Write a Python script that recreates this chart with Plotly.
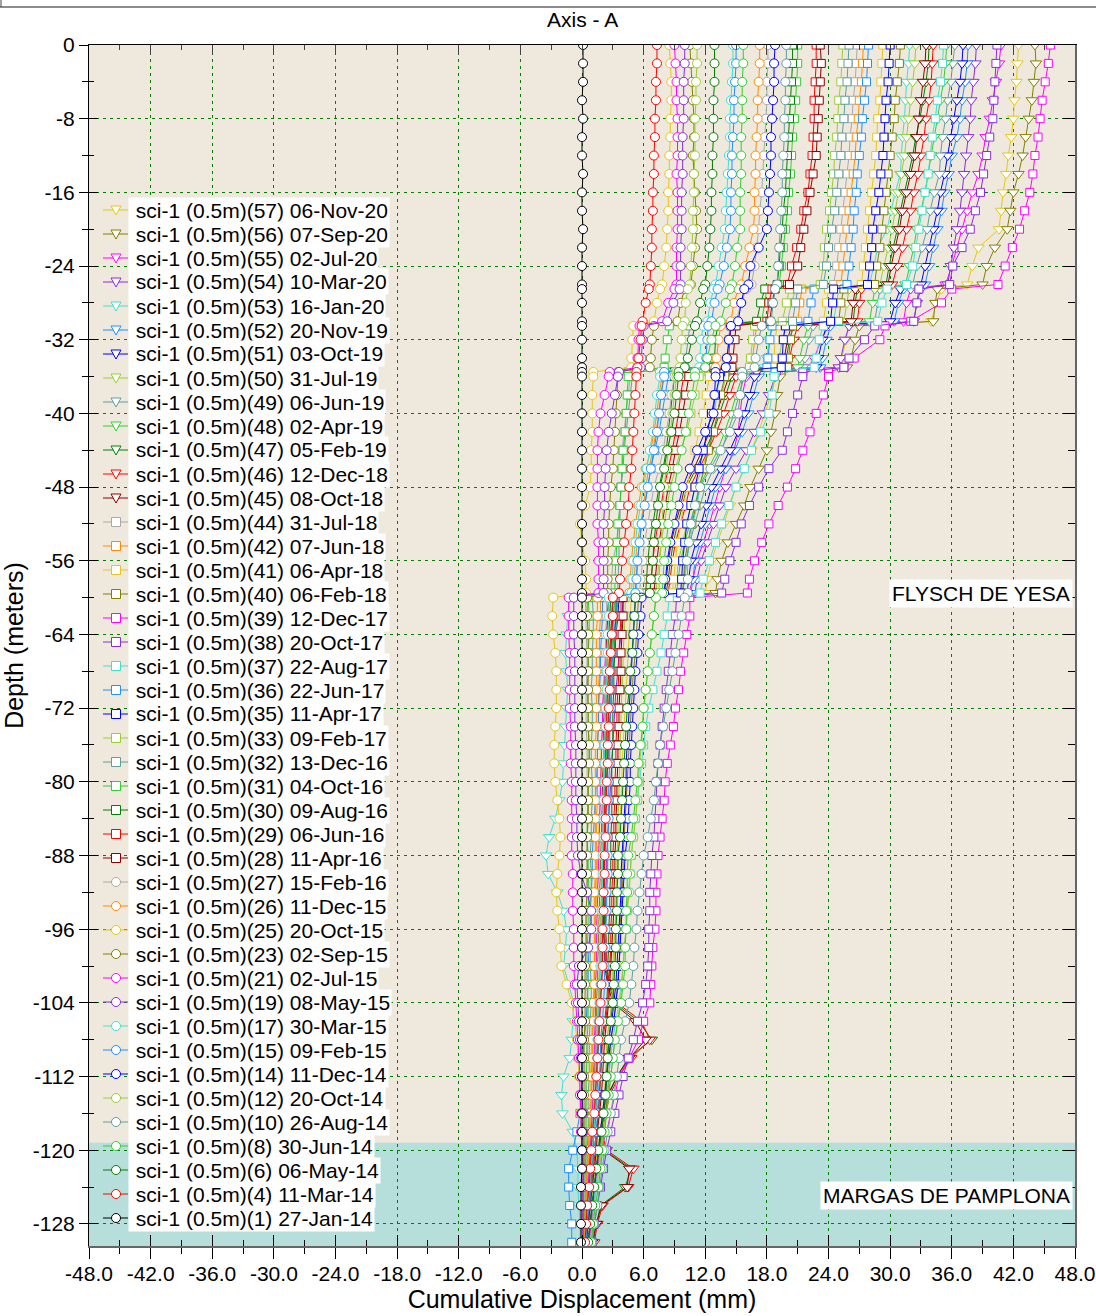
import plotly.graph_objects as go

# depth of each reading (m), shared by all surveys
depth = [0, -2, -4, -6, -8, -10, -12, -14, -16, -18, -20, -22, -24, -26,
         -26.5, -28, -30,
         -30.5, -32, -34, -35,
         -35.5, -36, -38, -40, -42, -44, -46, -48, -50, -52, -54, -56, -58,
         -59.5,
         -60, -62, -64, -66, -68, -70, -72, -74, -76, -78,
         -80, -82, -84, -86, -88, -90, -92, -94, -96, -98,
         -100, -102, -104, -106, -108, -110, -112, -114, -116, -118,
         -120, -122, -124, -126, -128, -130]

# cumulative displacement (mm) per survey
d57 = [42.5, 42.4, 42.3, 42.1, 42.0, 41.8, 41.5, 41.3, 41.0, 40.8, 40.6, 38.6, 38.0, 37.5,
       35.0, 34.5, 34.0,
       26.0, 25.7, 25.3, 25.0,
       19.0, 18.9, 18.4, 17.8, 17.2, 16.5, 15.8, 15.0, 14.4, 13.8, 13.2, 12.6, 12.2,
       12.0,
       2.8, 2.7, 2.6, 2.5, 2.3, 2.2, 2.0, 2.0, 1.9, 1.8,
       1.8, 1.7, 1.7, 1.6, 1.5, 1.5, 1.4, 1.4, 1.3, 1.3,
       1.2, 1.2, 1.1, 1.0, 0.9, 0.9, 0.8, 0.8, 0.7, 0.6,
       0.5, 0.5, 0.4, 0.3, 0.3, 0.2]
d56 = [44.1, 44.2, 44.0, 43.8, 43.5, 43.2, 42.9, 42.5, 42.0, 41.7, 41.4, 40.2, 39.4, 39.0,
       34.6, 34.4, 34.2,
       27.0, 26.6, 26.2, 25.8,
       19.5, 19.3, 19.0, 18.8, 18.4, 18.0, 17.2, 16.4, 15.8, 15.0, 14.2, 13.6, 13.2,
       13.0,
       3.0, 2.9, 2.8, 2.7, 2.6, 2.5, 2.4, 2.3, 2.2, 2.1,
       2.0, 2.0, 1.9, 1.9, 1.8, 1.8, 1.7, 1.7, 1.6, 1.6,
       1.5, 1.5, 1.4, 1.4, 1.3, 1.3, 1.2, 1.1, 1.0, 0.9,
       0.8, 0.7, 0.6, 0.5, 0.4, 0.3]
d55 = [40.8, 40.6, 40.3, 40.0, 39.7, 39.3, 39.0, 38.6, 38.0, 37.5, 37.0, 36.5, 36.0, 35.4,
       32.0, 31.6, 31.3,
       24.0, 23.3, 22.6, 22.0,
       16.2, 16.0, 15.6, 15.4, 15.2, 14.8, 14.0, 13.4, 12.9, 12.4, 11.8, 11.2, 10.8,
       10.4,
       2.6, 2.5, 2.4, 2.3, 2.2, 2.1, 2.0, 2.0, 1.9, 1.9,
       1.8, 1.8, 1.7, 1.7, 1.6, 1.6, 1.5, 1.5, 1.4, 1.4,
       1.4, 1.3, 1.3, 1.3, 1.2, 1.2, 1.1, 1.1, 1.0, 0.9,
       0.8, 0.7, 0.6, 0.5, 0.4, 0.3]
d54 = [38.4, 38.3, 38.1, 37.9, 37.8, 37.6, 37.4, 37.2, 37.0, 36.8, 36.5, 36.2, 35.9, 35.6,
       33.0, 32.6, 32.3,
       26.0, 25.6, 25.2, 25.0,
       19.0, 18.8, 18.2, 17.6, 16.8, 16.0, 15.0, 14.0, 13.4, 12.8, 12.2, 11.6, 11.2,
       11.0,
       4.0, 3.9, 3.8, 3.6, 3.5, 3.3, 3.2, 3.1, 3.0, 2.9,
       2.8, 2.7, 2.6, 2.5, 2.4, 2.4, 2.3, 2.2, 2.1, 2.0,
       2.0, 1.9, 1.8, 1.7, 1.6, 1.5, 1.5, 1.4, 1.3, 1.2,
       1.0, 0.9, 0.8, 0.6, 0.5, 0.4]
d53 = [31.9, 31.8, 31.6, 31.5, 31.4, 31.2, 31.1, 31.0, 30.5, 30.1, 29.7, 28.8, 28.4, 28.0,
       25.0, 24.8, 24.5,
       18.5, 18.2, 18.0, 17.8,
       13.5, 13.4, 13.1, 12.9, 12.6, 12.3, 11.9, 11.5, 11.2, 10.8, 10.5, 10.2, 10.0,
       9.8,
       -1.2, -1.4, -1.5, -1.6, -1.5, -1.4, -1.5, -1.6, -1.7, -1.8,
       -1.9, -2.2, -2.6, -3.2, -3.5, -3.3, -2.4, -1.8, -1.5, -1.6,
       -1.8, -1.3, -0.8, -0.9, -1.0, -1.2, -1.8, -2.0, -1.9, -0.9,
       -0.5, -0.4, -0.4, -0.3, -0.2, -0.2]
d52 = [37.6, 37.5, 37.3, 37.0, 36.8, 36.5, 36.0, 35.7, 35.3, 35.0, 34.6, 34.2, 33.8, 33.4,
       31.3, 30.8, 30.4,
       24.2, 23.8, 23.4, 23.2,
       17.4, 17.2, 16.7, 16.2, 15.6, 14.9, 14.0, 13.0, 12.5, 12.0, 11.5, 11.0, 10.8,
       10.6,
       3.4, 3.3, 3.1, 3.0, 2.9, 2.7, 2.6, 2.5, 2.4, 2.3,
       2.3, 2.2, 2.1, 2.1, 2.0, 2.0, 1.9, 1.9, 1.8, 1.8,
       1.7, 1.7, 1.6, 1.6, 1.5, 1.4, 1.4, 1.3, 1.2, 1.1,
       0.9, 0.8, 0.7, 0.6, 0.5, 0.4]
d51 = [37.1, 37.0, 36.8, 36.5, 36.2, 35.9, 35.6, 35.3, 34.9, 34.6, 34.2, 33.8, 33.4, 33.0,
       31.0, 30.5, 30.0,
       23.8, 23.4, 23.0, 22.8,
       17.0, 16.8, 16.3, 15.8, 15.2, 14.4, 13.5, 12.6, 12.1, 11.6, 11.1, 10.6, 10.4,
       10.2,
       3.6, 3.5, 3.3, 3.2, 3.0, 2.9, 2.8, 2.7, 2.6, 2.5,
       2.4, 2.3, 2.3, 2.2, 2.2, 2.1, 2.0, 2.0, 1.9, 1.9,
       1.8, 1.8, 1.7, 1.7, 1.6, 1.5, 1.5, 1.4, 1.3, 1.2,
       1.0, 0.9, 0.8, 0.6, 0.5, 0.4]
d50 = [32.5, 32.4, 32.2, 32.0, 31.8, 31.6, 31.4, 31.1, 30.8, 30.5, 30.2, 29.8, 29.4, 29.0,
       26.0, 25.8, 25.5,
       19.8, 19.5, 19.2, 19.0,
       14.2, 14.0, 13.6, 13.2, 12.8, 12.3, 11.7, 11.0, 10.6, 10.2, 9.8, 9.4, 9.2,
       9.0,
       3.0, 2.9, 2.8, 2.7, 2.6, 2.6, 2.5, 2.4, 2.3, 2.2,
       2.2, 2.1, 2.1, 2.0, 2.0, 1.9, 1.9, 1.8, 1.8, 1.7,
       1.7, 1.6, 1.6, 1.5, 1.5, 1.4, 1.4, 1.3, 1.2, 1.1,
       0.9, 0.8, 0.7, 0.6, 0.5, 0.4]
d49 = [36.3, 36.1, 35.9, 35.6, 35.4, 35.1, 34.9, 34.8, 34.3, 33.9, 33.6, 33.1, 32.6, 32.2,
       29.0, 28.8, 28.5,
       22.5, 22.1, 21.7, 21.5,
       16.0, 15.8, 15.3, 14.8, 14.2, 13.6, 12.8, 12.0, 11.5, 11.0, 10.5, 10.1, 9.9,
       9.8,
       3.5, 3.4, 3.3, 3.1, 3.0, 2.9, 2.8, 2.7, 2.6, 2.5,
       2.4, 2.4, 2.3, 2.3, 2.2, 2.1, 2.0, 2.0, 1.9, 1.9,
       1.8, 1.8, 1.7, 1.6, 1.5, 1.4, 1.4, 1.3, 1.2, 1.0,
       0.9, 0.8, 0.7, 0.6, 0.5, 0.4]
d48 = [35.5, 35.4, 35.2, 34.9, 34.6, 34.3, 34.0, 33.7, 33.4, 33.0, 32.6, 32.3, 31.9, 31.5,
       28.5, 28.3, 28.0,
       22.0, 21.6, 21.2, 21.0,
       15.8, 15.6, 15.0, 14.5, 13.9, 13.2, 12.3, 11.4, 11.0, 10.5, 10.0, 9.6, 9.4,
       9.2,
       3.2, 3.1, 3.0, 2.9, 2.8, 2.7, 2.6, 2.5, 2.4, 2.4,
       2.3, 2.3, 2.2, 2.2, 2.1, 2.1, 2.0, 2.0, 1.9, 1.9,
       1.8, 1.8, 1.7, 1.7, 1.6, 1.5, 1.5, 1.4, 1.3, 1.2,
       1.0, 0.9, 0.8, 0.7, 0.6, 0.5]
d47 = [33.8, 33.7, 33.5, 33.2, 32.9, 32.5, 32.2, 31.8, 31.4, 31.0, 30.7, 30.3, 29.9, 29.6,
       26.8, 26.6, 26.4,
       20.6, 20.2, 19.9, 19.7,
       14.8, 14.6, 14.0, 13.4, 12.8, 12.0, 11.1, 10.2, 9.8, 9.3, 8.9, 8.6, 8.4,
       8.2,
       2.8, 2.7, 2.6, 2.5, 2.4, 2.4, 2.3, 2.3, 2.2, 2.2,
       2.2, 2.1, 2.1, 2.1, 2.1, 2.1, 2.1, 2.2, 2.2, 2.3,
       2.3, 2.6, 3.2, 5.5, 6.8, 4.5, 3.4, 2.6, 2.2, 1.8,
       2.2, 4.8, 4.2, 1.8, 1.4, 1.1]
d46 = [34.2, 34.1, 34.0, 33.8, 33.5, 33.3, 33.0, 32.7, 32.3, 32.0, 31.6, 31.2, 30.7, 30.2,
       27.2, 27.0, 26.8,
       21.0, 20.6, 20.2, 20.0,
       15.2, 15.0, 14.4, 13.8, 13.1, 12.3, 11.4, 10.5, 10.1, 9.6, 9.1, 8.8, 8.6,
       8.4,
       3.0, 2.9, 2.8, 2.7, 2.6, 2.5, 2.4, 2.4, 2.3, 2.3,
       2.3, 2.2, 2.2, 2.2, 2.2, 2.2, 2.2, 2.3, 2.3, 2.4,
       2.4, 2.7, 3.4, 5.8, 6.6, 4.8, 3.6, 2.7, 2.3, 1.9,
       2.4, 5.0, 4.5, 2.0, 1.5, 1.2]
d45 = [33.5, 33.4, 33.2, 33.0, 32.8, 32.6, 32.4, 32.0, 31.6, 31.2, 30.9, 30.5, 30.1, 29.8,
       26.6, 26.4, 26.2,
       20.4, 20.0, 19.7, 19.5,
       14.5, 14.3, 13.7, 13.1, 12.4, 11.7, 10.9, 10.0, 9.6, 9.1, 8.7, 8.4, 8.2,
       8.0,
       2.6, 2.5, 2.4, 2.3, 2.3, 2.2, 2.2, 2.1, 2.1, 2.1,
       2.0, 2.0, 2.0, 2.0, 2.0, 2.0, 2.0, 2.1, 2.1, 2.2,
       2.2, 2.5, 3.0, 5.2, 6.2, 4.6, 3.4, 2.5, 2.1, 1.7,
       2.1, 4.6, 4.4, 1.9, 1.4, 1.0]
d44 = [26.8, 26.7, 26.6, 26.4, 26.3, 26.1, 26.0, 25.8, 25.6, 25.4, 25.2, 25.0, 24.8, 24.5,
       20.8, 20.4, 20.0,
       14.5, 14.3, 14.1, 14.0,
       4.8, 4.7, 4.5, 4.3, 4.1, 3.9, 3.9, 3.8, 3.7, 3.6, 3.4, 3.0, 2.9,
       2.8,
       0.3, 0.4, 0.4, 0.5, 0.5, 0.4, 0.4, 0.4, 0.5, 0.5,
       0.5, 0.6, 0.6, 0.5, 0.5, 0.5, 0.5, 0.4, 0.4, 0.4,
       0.4, 0.5, 0.5, 0.5, 0.5, 0.4, 0.4, 0.4, 0.3, 0.3,
       0.3, 0.3, 0.2, 0.2, 0.1, 0.1]
d42 = [27.4, 27.3, 27.2, 27.0, 26.9, 26.7, 26.6, 26.4, 26.2, 26.0, 25.8, 25.6, 25.4, 25.2,
       21.4, 21.2, 21.0,
       17.0, 16.8, 16.6, 16.5,
       8.0, 7.9, 7.7, 7.5, 7.2, 6.9, 6.5, 6.2, 6.0, 5.7, 5.4, 5.2, 5.1,
       5.0,
       1.8, 1.8, 1.7, 1.7, 1.7, 1.6, 1.6, 1.6, 1.5, 1.5,
       1.5, 1.5, 1.4, 1.4, 1.4, 1.4, 1.3, 1.3, 1.3, 1.3,
       1.2, 1.2, 1.2, 1.1, 1.0, 1.0, 1.0, 0.9, 0.9, 0.8,
       0.7, 0.6, 0.5, 0.4, 0.3, 0.2]
d41 = [29.3, 29.2, 29.1, 29.0, 28.8, 28.7, 28.6, 28.4, 28.2, 28.0, 27.8, 27.6, 27.4, 27.2,
       24.0, 23.8, 23.5,
       19.0, 18.8, 18.7, 18.6,
       12.5, 12.4, 12.1, 11.8, 11.4, 11.0, 10.6, 10.2, 9.9, 9.6, 9.3, 9.1, 8.9,
       8.8,
       4.8, 4.7, 4.6, 4.5, 4.4, 4.3, 4.2, 4.1, 4.0, 3.9,
       3.9, 3.8, 3.7, 3.6, 3.5, 3.5, 3.4, 3.3, 3.3, 3.2,
       3.1, 3.0, 2.9, 2.7, 2.4, 2.4, 2.3, 2.2, 2.0, 1.8,
       1.5, 1.3, 1.1, 0.9, 0.7, 0.5]
d40 = [31.0, 30.9, 30.7, 30.5, 30.4, 30.2, 30.0, 29.8, 29.6, 29.4, 29.2, 29.0, 28.7, 28.5,
       25.5, 25.2, 25.0,
       20.5, 20.3, 20.1, 20.0,
       14.0, 13.9, 13.5, 13.2, 12.8, 12.3, 11.9, 11.4, 11.1, 10.7, 10.3, 10.0, 9.9,
       9.8,
       5.5, 5.4, 5.3, 5.2, 5.0, 4.9, 4.8, 4.7, 4.6, 4.5,
       4.4, 4.3, 4.2, 4.1, 4.0, 4.0, 3.9, 3.8, 3.7, 3.7,
       3.6, 3.5, 3.3, 3.1, 2.8, 2.7, 2.6, 2.5, 2.3, 2.0,
       1.7, 1.5, 1.2, 1.0, 0.7, 0.5]
d39 = [45.6, 45.4, 45.1, 44.8, 44.6, 44.4, 44.1, 43.9, 43.6, 43.1, 42.6, 41.9, 41.2, 40.5,
       36.0, 35.0, 32.0,
       29.5, 29.0, 26.5, 25.5,
       24.0, 24.0, 23.5, 22.8, 22.2, 21.5, 20.8, 20.0, 19.1, 18.2, 17.5, 16.8, 16.3,
       16.1,
       10.5, 10.5, 10.2, 9.9, 9.6, 9.4, 9.1, 8.9, 8.6, 8.3,
       8.1, 8.0, 7.8, 7.6, 7.4, 7.3, 7.2, 7.2, 7.1, 6.9,
       6.8, 6.7, 6.6, 6.0, 5.5, 4.6, 3.6, 3.2, 2.8, 2.4,
       1.8, 1.5, 1.3, 1.1, 0.9, 0.7]
d38 = [40.4, 40.3, 40.2, 40.1, 40.0, 39.7, 39.4, 39.1, 38.8, 38.3, 37.8, 37.0, 36.1, 35.8,
       32.8, 32.6, 32.3,
       28.5, 27.5, 26.0, 25.5,
       21.5, 21.5, 21.0, 20.5, 20.0, 19.5, 18.2, 17.2, 16.3, 15.5, 15.0, 14.4, 13.9,
       13.6,
       9.2, 9.1, 8.8, 8.6, 8.4, 8.2, 8.0, 7.8, 7.6, 7.4,
       7.3, 7.2, 7.1, 7.0, 6.8, 6.7, 6.6, 6.6, 6.5, 6.5,
       6.4, 6.2, 5.9, 5.4, 5.0, 4.5, 4.0, 3.6, 3.2, 2.8,
       2.4, 2.1, 1.8, 1.5, 1.2, 1.0]
d37 = [35.2, 35.1, 34.9, 34.6, 34.4, 34.1, 33.9, 33.7, 33.4, 33.1, 32.8, 32.5, 32.2, 31.6,
       29.7, 29.2, 28.8,
       23.5, 23.1, 22.8, 22.6,
       18.8, 18.7, 18.5, 18.2, 17.4, 16.5, 15.8, 15.0, 14.3, 13.6, 13.0, 12.4, 11.8,
       11.5,
       8.5, 8.3, 8.0, 7.7, 7.3, 6.9, 6.5, 6.2, 6.0, 5.8,
       5.6, 5.4, 5.2, 5.0, 4.8, 4.7, 4.5, 4.4, 4.3, 4.1,
       4.0, 3.8, 3.6, 3.3, 3.0, 2.8, 2.6, 2.4, 2.2, 2.0,
       1.8, 1.6, 1.3, 1.1, 0.8, 0.6]
d36 = [27.9, 27.8, 27.7, 27.5, 27.3, 27.2, 27.0, 26.8, 26.7, 26.5, 26.4, 26.2, 26.0, 25.8,
       22.6, 22.3, 22.0,
       18.5, 18.3, 18.1, 18.0,
       8.5, 8.4, 8.1, 7.8, 7.5, 7.1, 6.7, 6.4, 6.1, 5.8, 5.6, 5.4, 5.3,
       5.2,
       2.0, 2.0, 1.9, 1.8, 1.8, 1.7, 1.6, 1.6, 1.5, 1.5,
       1.4, 1.3, 1.2, 1.1, 1.0, 1.0, 0.9, 0.8, 0.8, 0.7,
       0.6, 0.6, 0.5, 0.4, 0.2, 0.1, 0.0, -0.1, -0.2, -0.5,
       -0.9, -1.3, -1.3, -1.2, -1.0, -1.0]
d35 = [30.0, 29.9, 29.8, 29.6, 29.5, 29.4, 29.3, 29.1, 28.9, 28.6, 28.3, 28.2, 28.0, 27.8,
       24.5, 24.4, 24.2,
       19.8, 19.6, 19.5, 19.4,
       13.5, 13.4, 13.0, 12.6, 12.2, 11.8, 11.4, 11.0, 10.6, 10.2, 10.0, 9.8, 9.7,
       9.6,
       5.2, 5.1, 5.0, 4.9, 4.8, 4.7, 4.6, 4.5, 4.4, 4.3,
       4.3, 4.2, 4.1, 4.0, 3.9, 3.8, 3.8, 3.7, 3.6, 3.5,
       3.4, 3.3, 3.1, 2.9, 2.6, 2.5, 2.4, 2.3, 2.1, 1.9,
       1.6, 1.4, 1.2, 0.9, 0.7, 0.5]
d33 = [25.4, 25.3, 25.2, 25.0, 24.9, 24.8, 24.6, 24.5, 24.3, 24.1, 23.8, 23.6, 23.5, 23.2,
       20.2, 19.9, 19.5,
       16.8, 16.6, 16.4, 16.3,
       11.5, 11.4, 11.0, 10.6, 10.2, 9.6, 9.1, 8.6, 8.3, 8.0, 7.7, 7.5, 7.3,
       7.2,
       4.2, 4.2, 4.1, 4.0, 4.0, 3.9, 3.8, 3.8, 3.7, 3.7,
       3.6, 3.6, 3.5, 3.5, 3.4, 3.4, 3.3, 3.3, 3.2, 3.1,
       3.0, 3.0, 2.9, 2.7, 2.4, 2.4, 2.3, 2.2, 2.0, 1.8,
       1.5, 1.3, 1.1, 0.9, 0.7, 0.5]
d32 = [26.0, 25.9, 25.8, 25.6, 25.5, 25.3, 25.2, 25.0, 24.8, 24.6, 24.3, 24.0, 23.8, 23.5,
       21.0, 20.8, 20.5,
       10.5, 10.3, 10.1, 10.0,
       5.0, 4.9, 4.7, 4.5, 4.3, 4.1, 4.0, 3.8, 3.7, 3.7, 3.6, 3.6, 3.5,
       3.5,
       1.0, 1.1, 1.1, 1.0, 1.0, 0.9, 1.0, 1.0, 0.9, 0.9,
       1.0, 1.0, 0.9, 0.9, 0.8, 0.9, 0.9, 0.8, 0.8, 0.8,
       0.8, 0.9, 0.9, 0.8, 0.7, 0.7, 0.7, 0.6, 0.6, 0.6,
       0.5, 0.5, 0.4, 0.3, 0.3, 0.2]
d31 = [21.0, 21.0, 20.9, 20.8, 20.7, 20.5, 20.4, 20.3, 20.1, 20.0, 19.8, 19.6, 19.4, 19.2,
       18.0, 17.8, 17.5,
       8.5, 8.3, 8.1, 8.0,
       4.5, 4.5, 4.4, 4.3, 4.2, 4.0, 3.9, 3.8, 3.7, 3.5, 3.4, 3.3, 3.2,
       3.2,
       0.6, 0.7, 0.7, 0.6, 0.6, 0.5, 0.6, 0.6, 0.7, 0.7,
       0.6, 0.6, 0.5, 0.5, 0.6, 0.6, 0.7, 0.6, 0.6, 0.5,
       0.5, 0.5, 0.6, 0.6, 0.5, 0.5, 0.4, 0.4, 0.4, 0.4,
       0.4, 0.3, 0.3, 0.3, 0.2, 0.2]
d30 = [20.5, 20.5, 20.4, 20.3, 20.2, 20.1, 20.0, 19.9, 19.8, 19.6, 19.5, 19.3, 19.2, 19.0,
       17.8, 17.4, 17.0,
       13.2, 13.0, 12.9, 12.8,
       9.0, 9.0, 8.8, 8.6, 8.4, 8.2, 7.9, 7.5, 7.2, 6.9, 6.6, 6.4, 6.3,
       6.2,
       3.3, 3.3, 3.2, 3.2, 3.1, 3.1, 3.0, 3.0, 3.0, 2.9,
       2.9, 2.9, 2.9, 2.8, 2.8, 2.8, 2.7, 2.7, 2.6, 2.6,
       2.5, 2.5, 2.4, 2.2, 1.9, 1.9, 1.8, 1.7, 1.6, 1.4,
       1.2, 1.0, 0.9, 0.7, 0.5, 0.4]
d29 = [22.8, 22.8, 22.7, 22.6, 22.6, 22.5, 22.4, 22.2, 22.0, 21.6, 21.3, 20.9, 20.4, 20.0,
       18.5, 18.2, 18.0,
       14.5, 14.4, 14.3, 14.2,
       10.0, 9.9, 9.6, 9.4, 9.1, 8.8, 8.4, 8.0, 7.7, 7.4, 7.1, 6.9, 6.7,
       6.6,
       3.8, 3.8, 3.7, 3.6, 3.6, 3.5, 3.4, 3.4, 3.3, 3.3,
       3.2, 3.2, 3.1, 3.1, 3.0, 3.0, 2.9, 2.9, 2.8, 2.8,
       2.7, 2.6, 2.5, 2.3, 2.0, 1.9, 1.8, 1.7, 1.6, 1.4,
       1.3, 1.1, 0.9, 0.7, 0.5, 0.4]
d28 = [23.2, 23.3, 23.2, 23.1, 23.0, 22.9, 22.8, 22.5, 22.2, 21.9, 21.6, 21.3, 21.0, 20.2,
       18.8, 18.5, 18.3,
       15.0, 14.9, 14.7, 14.6,
       10.5, 10.4, 10.1, 9.8, 9.5, 9.1, 8.8, 8.4, 8.1, 7.8, 7.5, 7.3, 7.1,
       7.0,
       4.0, 4.0, 3.9, 3.8, 3.8, 3.7, 3.6, 3.6, 3.5, 3.5,
       3.4, 3.4, 3.3, 3.3, 3.2, 3.2, 3.1, 3.1, 3.0, 2.9,
       2.8, 2.7, 2.6, 2.4, 2.2, 2.1, 2.0, 1.9, 1.7, 1.5,
       1.4, 1.2, 1.0, 0.8, 0.6, 0.4]
d27 = [18.1, 18.1, 18.0, 18.0, 17.9, 17.8, 17.7, 17.6, 17.5, 17.3, 17.2, 17.0, 16.8, 16.5,
       16.0, 15.5, 15.0,
       14.4, 14.3, 14.1, 14.0,
       9.0, 9.0, 8.7, 8.5, 8.2, 7.9, 7.5, 7.0, 6.7, 6.4, 6.1, 5.9, 5.7,
       5.6,
       2.4, 2.4, 2.3, 2.3, 2.3, 2.2, 2.2, 2.2, 2.1, 2.1,
       2.1, 2.0, 2.0, 2.0, 2.0, 1.9, 1.9, 1.9, 1.8, 1.8,
       1.7, 1.7, 1.6, 1.5, 1.4, 1.3, 1.3, 1.2, 1.1, 1.0,
       0.9, 0.8, 0.7, 0.5, 0.4, 0.3]
d26 = [17.3, 17.3, 17.2, 17.1, 17.1, 17.0, 16.9, 16.9, 16.8, 16.8, 16.7, 16.3, 15.9, 15.5,
       15.2, 14.8, 14.5,
       13.5, 13.3, 13.1, 13.0,
       7.8, 7.8, 7.5, 7.3, 7.0, 6.7, 6.2, 5.8, 5.5, 5.2, 5.0, 4.8, 4.7,
       4.6,
       1.5, 1.5, 1.4, 1.4, 1.4, 1.4, 1.4, 1.4, 1.3, 1.3,
       1.3, 1.3, 1.3, 1.3, 1.3, 1.3, 1.2, 1.2, 1.2, 1.2,
       1.2, 1.2, 1.1, 1.1, 1.0, 1.0, 0.9, 0.9, 0.8, 0.7,
       0.6, 0.5, 0.4, 0.3, 0.3, 0.2]
d25 = [8.5, 8.6, 8.7, 8.7, 8.6, 8.6, 8.5, 8.5, 8.4, 8.4, 8.3, 8.2, 8.0, 7.8,
       7.6, 7.3, 7.0,
       5.0, 4.9, 4.8, 4.8,
       1.1, 1.1, 1.0, 1.0, 1.0, 0.9, 0.9, 0.8, 0.3, -0.2, 0.0, 0.3, 0.4,
       0.4,
       -2.8, -2.9, -2.8, -2.6, -2.5, -2.5, -2.5, -2.6, -2.7, -2.7,
       -2.6, -2.4, -2.2, -2.1, -2.2, -2.4, -2.5, -2.4, -2.2, -2.1,
       -2.0, -1.5, -1.0, -0.7, -0.5, -0.4, -0.3, -0.2, -0.2, -0.1,
       0.0, 0.0, 0.0, 0.0, 0.0, 0.0]
d23 = [10.5, 10.6, 10.7, 10.8, 10.9, 10.9, 10.8, 10.9, 11.0, 11.1, 11.2, 11.0, 10.8, 10.6,
       10.0, 9.6, 9.3,
       7.0, 6.8, 6.7, 6.6,
       3.5, 3.5, 3.4, 3.3, 3.2, 3.1, 3.0, 2.8, 2.7, 2.6, 2.6, 2.5, 2.5,
       2.5,
       0.5, 0.5, 0.6, 0.6, 0.6, 0.6, 0.6, 0.6, 0.7, 0.7,
       0.6, 0.6, 0.6, 0.5, 0.5, 0.5, 0.5, 0.4, 0.4, 0.4,
       0.3, 0.3, 0.3, 0.3, 0.2, 0.2, 0.2, 0.2, 0.2, 0.2,
       0.2, 0.2, 0.1, 0.1, 0.1, 0.1]
d21 = [9.0, 9.1, 9.2, 9.2, 9.3, 9.3, 9.3, 9.2, 9.3, 9.3, 9.3, 9.2, 9.2, 9.2,
       9.0, 8.4, 7.8,
       5.6, 5.5, 5.4, 5.4,
       2.7, 2.6, 2.2, 1.8, 1.6, 1.5, 1.5, 1.5, 1.5, 1.5, 1.6, 1.6, 1.6,
       1.6,
       -1.3, -1.3, -1.3, -1.2, -1.2, -1.2, -1.2, -1.1, -1.1, -1.1,
       -1.0, -1.0, -1.0, -1.0, -1.0, -0.9, -0.9, -0.9, -0.8, -0.8,
       -0.8, -0.7, -0.6, -0.5, -0.4, -0.3, -0.2, -0.2, -0.1, -0.1,
       0.0, 0.0, 0.0, 0.0, 0.0, 0.0]
d19 = [10.0, 10.0, 9.9, 9.9, 9.9, 9.8, 9.8, 9.8, 9.7, 9.7, 9.7, 9.6, 9.6, 9.6,
       9.5, 8.9, 8.3,
       6.0, 5.9, 5.8, 5.7,
       3.6, 3.5, 3.2, 2.9, 2.6, 2.4, 2.3, 2.2, 2.2, 2.1, 2.1, 2.1, 2.1,
       2.1,
       -0.8, -0.8, -0.8, -0.7, -0.7, -0.7, -0.7, -0.7, -0.6, -0.6,
       -0.6, -0.6, -0.5, -0.5, -0.4, -0.1, 0.5, 0.9, 0.9, 0.6,
       -0.3, -0.5, -0.4, -0.3, -0.2, -0.1, 0.0, 0.0, 0.1, 0.1,
       0.1, 0.1, 0.1, 0.1, 0.1, 0.1]
d17 = [14.7, 14.7, 14.6, 14.5, 14.4, 14.4, 14.3, 14.2, 14.1, 14.0, 13.9, 13.6, 13.3, 13.0,
       12.8, 12.5, 12.2,
       11.8, 11.6, 11.5, 11.4,
       7.6, 7.6, 7.3, 7.1, 6.9, 6.6, 6.3, 6.0, 5.7, 5.4, 5.2, 5.0, 4.9,
       4.8,
       2.6, 2.6, 2.5, 2.5, 2.4, 2.4, 2.3, 2.3, 2.2, 2.2,
       2.2, 2.1, 2.1, 2.1, 2.0, 2.0, 2.0, 1.9, 1.9, 1.9,
       1.8, 1.8, 1.7, 1.6, 1.5, 1.5, 1.4, 1.4, 1.3, 1.1,
       1.0, 0.9, 0.7, 0.6, 0.4, 0.3]
d15 = [15.0, 15.0, 14.9, 14.8, 14.8, 14.7, 14.6, 14.6, 14.5, 14.5, 14.4, 14.1, 13.8, 13.4,
       13.2, 12.9, 12.6,
       12.3, 12.2, 12.1, 12.0,
       8.0, 8.0, 7.7, 7.5, 7.3, 7.0, 6.7, 6.4, 6.1, 5.8, 5.6, 5.4, 5.3,
       5.2,
       3.0, 3.0, 2.9, 2.9, 2.8, 2.8, 2.8, 2.7, 2.7, 2.7,
       2.6, 2.6, 2.6, 2.5, 2.5, 2.5, 2.4, 2.4, 2.3, 2.3,
       2.2, 2.2, 2.1, 2.0, 1.8, 1.8, 1.7, 1.6, 1.5, 1.4,
       1.2, 1.0, 0.9, 0.7, 0.5, 0.4]
d14 = [18.8, 18.7, 18.7, 18.6, 18.5, 18.4, 18.4, 18.3, 18.2, 18.1, 18.0, 17.2, 16.4, 16.2,
       15.8, 15.5, 15.2,
       14.5, 14.3, 14.1, 14.0,
       13.0, 13.0, 12.9, 12.8, 12.0, 11.2, 10.5, 9.8, 9.4, 9.0, 8.6, 8.3, 8.1,
       8.0,
       5.8, 5.7, 5.5, 5.4, 5.2, 5.1, 5.0, 4.9, 4.8, 4.7,
       4.7, 4.6, 4.5, 4.4, 4.2, 4.1, 4.0, 3.9, 3.8, 3.7,
       3.6, 3.5, 3.3, 3.1, 2.8, 2.6, 2.4, 2.2, 2.0, 1.8,
       1.6, 1.4, 1.2, 1.0, 0.8, 0.6]
d12 = [11.2, 11.2, 11.1, 11.1, 11.0, 11.0, 11.0, 10.9, 10.9, 10.8, 10.8, 10.7, 10.6, 10.5,
       10.3, 10.1, 10.0,
       9.8, 9.7, 9.6, 9.5,
       9.2, 9.2, 9.0, 8.8, 8.6, 8.4, 8.2, 8.0, 7.9, 7.8, 7.7, 7.6, 7.5,
       7.5,
       7.2, 7.0, 6.8, 6.6, 6.4, 6.2, 6.0, 5.9, 5.8, 5.6,
       5.5, 5.4, 5.2, 5.0, 4.8, 4.7, 4.6, 4.4, 4.3, 4.1,
       4.0, 3.9, 3.7, 3.5, 3.2, 3.0, 2.8, 2.6, 2.4, 2.1,
       1.9, 1.7, 1.4, 1.2, 1.0, 0.8]
d10 = [19.9, 19.9, 19.8, 19.8, 19.7, 19.7, 19.6, 19.5, 19.5, 19.4, 19.3, 19.2, 19.1, 19.0,
       18.8, 18.6, 18.4,
       17.5, 17.2, 16.9, 16.8,
       15.6, 15.6, 15.4, 15.2, 14.4, 13.5, 12.5, 11.5, 11.0, 10.6, 10.4, 10.2, 10.3,
       10.3,
       10.0, 9.7, 9.4, 9.1, 8.8, 8.5, 8.2, 7.9, 7.6, 7.4,
       7.2, 7.0, 6.7, 6.4, 6.0, 5.8, 5.6, 5.4, 5.3, 5.1,
       5.0, 4.8, 4.6, 4.2, 3.8, 3.6, 3.4, 3.1, 2.8, 2.5,
       2.2, 2.0, 1.7, 1.5, 1.2, 1.0]
d8 = [15.7, 15.7, 15.6, 15.6, 15.6, 15.5, 15.5, 15.5, 15.4, 15.4, 15.4, 15.1, 14.9, 14.6,
      14.4, 14.0, 13.5,
      13.0, 12.6, 12.2, 12.0,
      11.0, 11.0, 10.7, 10.4, 10.1, 9.7, 9.3, 9.0, 8.7, 8.4, 8.2, 8.0, 7.9,
      7.8,
      7.2, 7.0, 6.8, 6.6, 6.4, 6.2, 6.0, 5.9, 5.7, 5.5,
      5.4, 5.2, 5.0, 4.8, 4.5, 4.4, 4.4, 4.3, 4.3, 4.2,
      4.2, 4.0, 3.8, 3.5, 3.2, 3.0, 2.8, 2.6, 2.4, 2.2,
      2.0, 1.8, 1.6, 1.3, 1.1, 0.9]
d6 = [12.9, 12.9, 12.9, 12.8, 12.8, 12.8, 12.7, 12.7, 12.6, 12.6, 12.5, 12.4, 12.2, 12.0,
      11.8, 11.5, 11.2,
      11.0, 10.7, 10.3, 10.0,
      9.4, 9.4, 9.2, 9.0, 8.7, 8.3, 8.0, 7.6, 7.4, 7.2, 7.0, 6.9, 6.7,
      6.6,
      5.2, 5.1, 5.0, 4.9, 4.7, 4.6, 4.4, 4.3, 4.2, 4.1,
      4.0, 3.9, 3.8, 3.7, 3.5, 3.5, 3.4, 3.4, 3.3, 3.3,
      3.2, 3.1, 3.0, 2.8, 2.6, 2.5, 2.4, 2.3, 2.1, 1.9,
      1.6, 1.4, 1.2, 1.0, 0.8, 0.6]
d4 = [7.3, 7.3, 7.2, 7.2, 7.1, 7.1, 7.0, 7.0, 6.9, 6.9, 6.8, 6.8, 6.7, 6.6,
      6.5, 6.2, 5.9,
      5.8, 5.7, 5.5, 5.4,
      5.3, 5.3, 5.2, 5.1, 5.0, 4.9, 4.8, 4.6, 4.5, 4.3, 4.1, 3.9, 3.7,
      3.6,
      3.0, 3.0, 2.9, 2.8, 2.7, 2.7, 2.6, 2.6, 2.5, 2.5,
      2.4, 2.4, 2.3, 2.3, 2.2, 2.2, 2.1, 2.1, 2.0, 2.0,
      2.0, 1.9, 1.8, 1.7, 1.6, 1.5, 1.4, 1.3, 1.2, 1.0,
      0.9, 0.8, 0.7, 0.5, 0.4, 0.3]
d1 = [0.1, 0.1, 0.1, 0.0, 0.1, 0.0, 0.0, 0.1, 0.0, 0.0, 0.1, 0.0, 0.0, 0.0,
      0.0, 0.0, 0.0,
      0.0, 0.0, 0.0, 0.0,
      0.0, 0.0, 0.0, 0.0, 0.0, 0.0, 0.0, 0.0, 0.0, 0.0, 0.0, 0.0, 0.0,
      0.0,
      0.0, 0.0, 0.0, 0.0, 0.0, 0.0, 0.0, 0.0, 0.0, 0.0,
      0.0, 0.0, 0.0, 0.0, 0.0, 0.0, 0.0, 0.0, 0.0, 0.0,
      0.0, 0.0, 0.0, 0.0, 0.0, 0.0, 0.0, 0.0, 0.0, 0.0,
      0.0, 0.0, -0.1, -0.1, -0.1, -0.1]

readings = ["57", "56", "55", "54", "53", "52", "51", "50", "49", "48", "47", "46", "45",
            "44", "42", "41", "40", "39", "38", "37", "36", "35", "33", "32", "31", "30", "29", "28",
            "27", "26", "25", "23", "21", "19", "17", "15", "14", "12", "10", "8", "6", "4", "1"]
dates = ["06-Nov-20", "07-Sep-20", "02-Jul-20", "10-Mar-20", "16-Jan-20", "20-Nov-19",
         "03-Oct-19", "31-Jul-19", "06-Jun-19", "02-Apr-19", "05-Feb-19", "12-Dec-18",
         "08-Oct-18", "31-Jul-18", "07-Jun-18", "06-Apr-18", "06-Feb-18", "12-Dec-17",
         "20-Oct-17", "22-Aug-17", "22-Jun-17", "11-Apr-17", "09-Feb-17", "13-Dec-16",
         "04-Oct-16", "09-Aug-16", "06-Jun-16", "11-Apr-16", "15-Feb-16", "11-Dec-15",
         "20-Oct-15", "02-Sep-15", "02-Jul-15", "08-May-15", "30-Mar-15", "09-Feb-15",
         "11-Dec-14", "20-Oct-14", "26-Aug-14", "30-Jun-14", "06-May-14", "11-Mar-14",
         "27-Jan-14"]
values = [d57, d56, d55, d54, d53, d52, d51, d50, d49, d48, d47, d46, d45,
          d44, d42, d41, d40, d39, d38, d37, d36, d35, d33, d32, d31, d30, d29, d28,
          d27, d26, d25, d23, d21, d19, d17, d15, d14, d12, d10, d8, d6, d4, d1]

x_ticks = [-48, -42, -36, -30, -24, -18, -12, -6, 0, 6, 12, 18, 24, 30, 36, 42, 48]
x_labels = ["-48.0", "-42.0", "-36.0", "-30.0", "-24.0", "-18.0", "-12.0", "-6.0", "0.0",
            "6.0", "12.0", "18.0", "24.0", "30.0", "36.0", "42.0", "48.0"]
x_minor = [-45, -39, -33, -27, -21, -15, -9, -3, 3, 9, 15, 21, 27, 33, 39, 45]
y_ticks = [0, -8, -16, -24, -32, -40, -48, -56, -64, -72, -80, -88, -96, -104, -112, -120, -128]
y_labels = ["0", "-8", "-16", "-24", "-32", "-40", "-48", "-56", "-64", "-72", "-80", "-88",
            "-96", "-104", "-112", "-120", "-128"]
y_minor = [-4, -12, -20, -28, -36, -44, -52, -60, -68, -76, -84, -92, -100, -108, -116, -124]

# palette cycles through the surveys in the order the software assigns it
GOLD, OLIVE, MAGENTA, PURPLE = "#E6C619", "#808000", "#FF00FF", "#8A2BE2"
TURQ, DODGER, BLUE, YGREEN = "#40E0D0", "#1E90FF", "#0000FF", "#9ACD32"
CADET, LIME, GREEN, RED = "#5F9EA0", "#32CD32", "#008000", "#FF0000"
DARKRED, GRAY, ORANGE = "#8B0000", "#A9A9A9", "#FF8C00"
colors = [GOLD, OLIVE, MAGENTA, PURPLE, TURQ, DODGER, BLUE, YGREEN, CADET, LIME, GREEN, RED, DARKRED,
          GRAY, ORANGE, GOLD, OLIVE, MAGENTA, PURPLE, TURQ, DODGER, BLUE, YGREEN, CADET, LIME, GREEN,
          RED, DARKRED,
          GRAY, ORANGE, GOLD, OLIVE, MAGENTA, PURPLE, TURQ, DODGER, BLUE, YGREEN, CADET, LIME, GREEN,
          RED, "#000000"]
symbols = ["triangle-down"] * 13 + ["square"] * 15 + ["circle"] * 15
msize = {"triangle-down": 10, "square": 8, "circle": 9}

FONT = "Liberation Sans, Arial, sans-serif"
FS = 21
W, H = 1096, 1316
PL, PR, PT, PB = 89, 1075, 45, 1246   # plot area in pixels


def px(x):
    return (x - PL) / (PR - PL)


def py(y):
    return (PB - y) / (PB - PT)


fig = go.Figure()

for rd, dt, col, sym, vals in zip(readings, dates, colors, symbols, values):
    fig.add_trace(go.Scatter(
        x=vals, y=depth,
        mode="lines+markers",
        name=f"sci-1 (0.5m)({rd}) {dt}",
        line=dict(color=col, width=1),
        marker=dict(symbol=sym, size=msize[sym],
                    color="white", line=dict(color=col, width=1)),
        showlegend=False,
    ))

# overlay axes only carry the inward half of the crossing ticks
fig.add_trace(go.Scatter(x=[None], y=[None], xaxis="x2", yaxis="y2",
                         showlegend=False, hoverinfo="skip"))
fig.add_trace(go.Scatter(x=[None], y=[None], xaxis="x3", yaxis="y3",
                         showlegend=False, hoverinfo="skip"))

shapes = [
    # Margas de Pamplona layer
    dict(type="rect", xref="x", yref="y", x0=-48, x1=48, y0=-130.4, y1=-119.2,
         fillcolor="#B6DFDC", line=dict(width=0), layer="below"),
    # frame remnant above the chart
    dict(type="line", xref="paper", yref="paper", x0=px(0), x1=px(1096), y0=py(7), y1=py(7),
         line=dict(color="#8C8C8C", width=2)),
    dict(type="line", xref="paper", yref="paper", x0=px(1), x1=px(1), y0=py(0), y1=py(7),
         line=dict(color="#444444", width=1)),
]

annotations = [
    dict(text="Axis - A", xref="paper", yref="paper", x=0.5, y=py(19),
         xanchor="center", yanchor="middle", showarrow=False, font=dict(size=FS)),
    dict(text="FLYSCH DE YESA", xref="x", yref="y", x=47.8, y=-59.6,
         xanchor="right", yanchor="middle",
         showarrow=False, bgcolor="white", borderpad=2, font=dict(size=FS)),
    dict(text="MARGAS DE PAMPLONA", xref="x", yref="y", x=47.8, y=-124.9,
         xanchor="right", yanchor="middle",
         showarrow=False, bgcolor="white", borderpad=2, font=dict(size=FS)),
]

# hand-built legend: each label sits on its own white box
for i, (rd, dt, col, sym) in enumerate(zip(readings, dates, colors, symbols)):
    cy = 210 + 24 * i
    cx = 116
    shapes.append(dict(type="line", xref="paper", yref="paper",
                       x0=px(103), x1=px(128), y0=py(cy), y1=py(cy),
                       line=dict(color=col, width=1), layer="above"))
    if sym == "circle":
        shapes.append(dict(type="circle", xref="paper", yref="paper",
                           x0=px(cx - 4.5), x1=px(cx + 4.5), y0=py(cy + 4.5), y1=py(cy - 4.5),
                           fillcolor="white", line=dict(color=col, width=1), layer="above"))
    elif sym == "square":
        shapes.append(dict(type="rect", xref="paper", yref="paper",
                           x0=px(cx - 4.5), x1=px(cx + 4.5), y0=py(cy + 4.5), y1=py(cy - 4.5),
                           fillcolor="white", line=dict(color=col, width=1), layer="above"))
    else:
        path = (f"M {px(cx - 5)},{py(cy - 4)} L {px(cx + 5)},{py(cy - 4)} "
                f"L {px(cx)},{py(cy + 5)} Z")
        shapes.append(dict(type="path", xref="paper", yref="paper", path=path,
                           fillcolor="white", line=dict(color=col, width=1), layer="above"))
    annotations.append(dict(text="\u00a0sci-1 (0.5m)(" + rd + ") " + dt,
                            xref="paper", yref="paper", x=px(128), y=py(cy),
                            xanchor="left", yanchor="middle", showarrow=False,
                            bgcolor="white", borderpad=1, font=dict(size=FS)))

grid = dict(showgrid=True, gridcolor="#008000", griddash="3px,4px", gridwidth=1)

fig.update_layout(
    width=W, height=H,
    margin=dict(l=PL, r=W - PR, t=PT, b=H - PB),
    paper_bgcolor="white", plot_bgcolor="#EFE9DD",
    font=dict(family=FONT, size=FS, color="black"),
    showlegend=False,
    hovermode="closest",
    shapes=shapes,
    annotations=annotations,
    xaxis=dict(range=[-48, 48], tickmode="array", tickvals=x_ticks, ticktext=x_labels,
               ticks="outside", ticklen=11, tickcolor="black", tickwidth=1,
               ticklabelstandoff=-3,
               minor=dict(tickvals=x_minor, ticks="outside", ticklen=6, tickcolor="black",
                          showgrid=False),
               showline=True, linecolor="#666666", linewidth=2, zeroline=False,
               automargin=False, **grid,
               title=dict(text="Cumulative Displacement (mm)", standoff=6)),
    yaxis=dict(range=[-130.4, 0], tickmode="array", tickvals=y_ticks, ticktext=y_labels,
               ticks="outside", ticklen=9, tickcolor="black", tickwidth=1,
               minor=dict(tickvals=y_minor, ticks="outside", ticklen=6, tickcolor="black",
                          showgrid=False),
               showline=True, linecolor="black", linewidth=1, zeroline=False,
               automargin=False, **grid,
               title=dict(text="Depth (meters)", standoff=18)),
    xaxis2=dict(overlaying="x", side="bottom", anchor="y", range=[-48, 48],
                tickmode="array", tickvals=x_ticks, ticks="inside", ticklen=11,
                tickcolor="black", showticklabels=False, showgrid=False, zeroline=False,
                showline=False, automargin=False,
                minor=dict(tickvals=x_minor, ticks="inside", ticklen=6, tickcolor="black")),
    yaxis2=dict(overlaying="y", side="left", anchor="x", range=[-130.4, 0],
                tickmode="array", tickvals=y_ticks, ticks="inside", ticklen=9,
                tickcolor="black", showticklabels=False, showgrid=False, zeroline=False,
                showline=False, automargin=False,
                minor=dict(tickvals=y_minor, ticks="inside", ticklen=5, tickcolor="black")),
    xaxis3=dict(overlaying="x", side="top", anchor="y", range=[-48, 48],
                tickmode="array", tickvals=x_ticks, ticks="inside", ticklen=10,
                tickcolor="#444444", showticklabels=False, showgrid=False, zeroline=False,
                showline=True, linecolor="black", linewidth=1, automargin=False,
                minor=dict(tickvals=x_minor, ticks="inside", ticklen=5, tickcolor="#444444")),
    yaxis3=dict(overlaying="y", side="right", anchor="x", range=[-130.4, 0],
                tickmode="array", tickvals=y_ticks, ticks="inside", ticklen=12,
                tickcolor="black", showticklabels=False, showgrid=False, zeroline=False,
                showline=True, linecolor="#666666", linewidth=2, automargin=False,
                minor=dict(tickvals=y_minor, ticks="inside", ticklen=7, tickcolor="black")),
)

# the page's default 8px body margin would push the figure past the window edge
fig.write_html("out.html",
               config={"displayModeBar": False},
               post_script="document.body.style.margin='0px';"
                           "document.documentElement.style.overflow='hidden';")
